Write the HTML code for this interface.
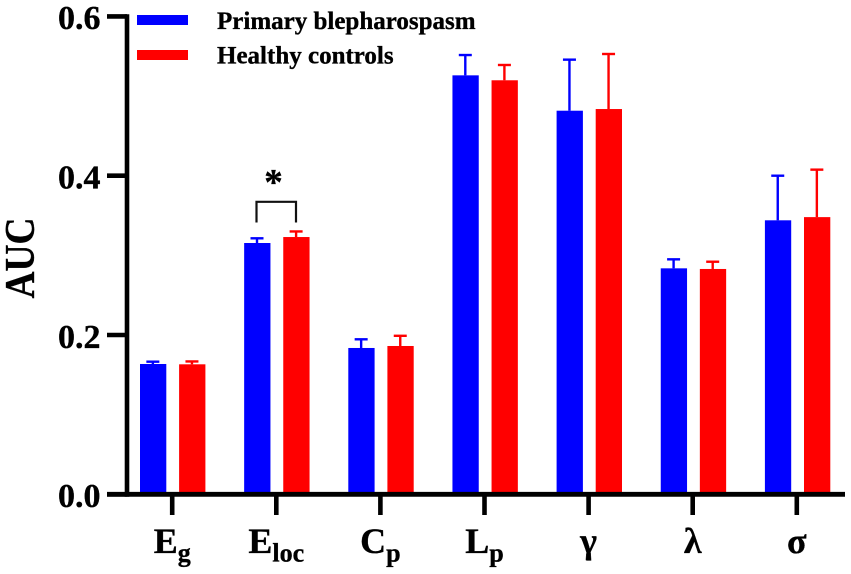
<!DOCTYPE html>
<html>
<head>
<meta charset="utf-8">
<title>AUC bar chart</title>
<style>
html,body{margin:0;padding:0;background:#fff;width:851px;height:574px;overflow:hidden}
svg{display:block}
text{font-family:"Liberation Serif",serif;font-weight:bold;fill:#000;stroke:#000;stroke-width:0.35px}
</style>
</head>
<body>
<svg id="chart" width="851" height="574" viewBox="0 0 851 574" xmlns="http://www.w3.org/2000/svg">
  <rect x="0" y="0" width="851" height="574" fill="#fff"/>
  <g id="bars"></g>
  <g id="axes"></g>
  <text transform="translate(34,258) rotate(-90) scale(0.89,1)" text-anchor="middle" font-size="42">AUC</text>
  <g>
    <path d="M256.5 222.5V201.8H296V222.5" fill="none" stroke="#111" stroke-width="2.2"/>
    <text x="273.5" y="194.5" text-anchor="middle" font-size="37">*</text>
  </g>
  <g>
    <rect x="137" y="15" width="51" height="10" fill="#0000ff"/>
    <text x="217" y="29" font-size="25">Primary blepharospasm</text>
    <rect x="137" y="50" width="51" height="10" fill="#ff0000"/>
    <text x="217" y="63.5" font-size="25">Healthy controls</text>
  </g>
</svg>
<script>
var categories = ['E', 'E', 'C', 'L', 'γ', 'λ', 'σ'];
var categorySubscripts = ['g', 'loc', 'p', 'p', '', '', ''];
var patientValues = [0.1636, 0.3155, 0.1837, 0.526, 0.4816, 0.2837, 0.344];
var patientErrorTops = [0.1665, 0.3214, 0.1946, 0.5515, 0.5457, 0.295, 0.400];
var controlValues = [0.1632, 0.323, 0.1862, 0.5198, 0.4837, 0.2829, 0.348];
var controlErrorTops = [0.1668, 0.330, 0.199, 0.539, 0.5528, 0.292, 0.4076];
var yTickValues = [0, 0.2, 0.4, 0.6];
var yTickLabels = ['0.0', '0.2', '0.4', '0.6'];

var SVGNS = 'http://www.w3.org/2000/svg';
function yScale(v) { return 494.3 - v * 796.5; }
function tickX(i) { return 172.2 + i * 104.1; }
function barX(i, s) { return 140 + i * 104.15 + s * 39.1; }
var BAR_W = 26.3, CAP_W = 13, AXIS_X = 127, AXIS_Y = 494.3;

function make(tag, attrs, parent) {
  var e = document.createElementNS(SVGNS, tag);
  for (var k in attrs) e.setAttribute(k, attrs[k]);
  parent.appendChild(e);
  return e;
}

var barsG = document.getElementById('bars');
var axesG = document.getElementById('axes');

function drawSeries(values, tops, s, color, prefix) {
  for (var i = 0; i < values.length; i++) {
    var x = barX(i, s), cx = x + BAR_W / 2 - 0.3;
    var top = yScale(values[i]), et = yScale(tops[i]);
    var bar = make('rect', {x: x, y: top, width: BAR_W, height: AXIS_Y - top, fill: color}, barsG);
    
    
    var stem = make('line', {x1: cx, x2: cx, y1: top, y2: et, stroke: color, 'stroke-width': 2.4}, barsG);
    
    
    var cap = make('line', {x1: cx - CAP_W / 2, x2: cx + CAP_W / 2, y1: et, y2: et, stroke: color, 'stroke-width': 2.4}, barsG);
    
    
  }
}
drawSeries(patientValues, patientErrorTops, 0, '#0000ff', 'primary-blepharospasm');
drawSeries(controlValues, controlErrorTops, 1, '#ff0000', 'healthy-controls');

var yAxisLine = make('line', {x1: AXIS_X, x2: AXIS_X, y1: yScale(0.6) - 2.2, y2: AXIS_Y + 2.4, stroke: '#000', 'stroke-width': 4.6}, axesG);


var xAxisLine = make('line', {x1: 107, x2: 845, y1: AXIS_Y, y2: AXIS_Y, stroke: '#000', 'stroke-width': 4.8}, axesG);



yTickValues.forEach(function (v, i) {
  var y = yScale(v);
  var t = make('line', {x1: 107, x2: AXIS_X, y1: y, y2: y, stroke: '#000', 'stroke-width': 4.6}, axesG);
  
  
  var l = make('text', {x: 100.5, y: y + 12.8, 'text-anchor': 'end', 'font-size': 34}, axesG);
  l.textContent = yTickLabels[i];
  
  
});

categories.forEach(function (c, i) {
  var x = tickX(i);
  var t = make('line', {x1: x, x2: x, y1: AXIS_Y, y2: 515, stroke: '#000', 'stroke-width': 4.6}, axesG);
  
  
  var l = make('text', {x: x, y: 553, 'text-anchor': 'middle', 'font-size': 36}, axesG);
  
  
  var main = make('tspan', {}, l);
  main.textContent = c;
  if (categorySubscripts[i]) {
    var sub = make('tspan', {dy: 8.5, 'font-size': 26}, l);
    sub.textContent = categorySubscripts[i];
  }
});
</script>
</body>
</html>
